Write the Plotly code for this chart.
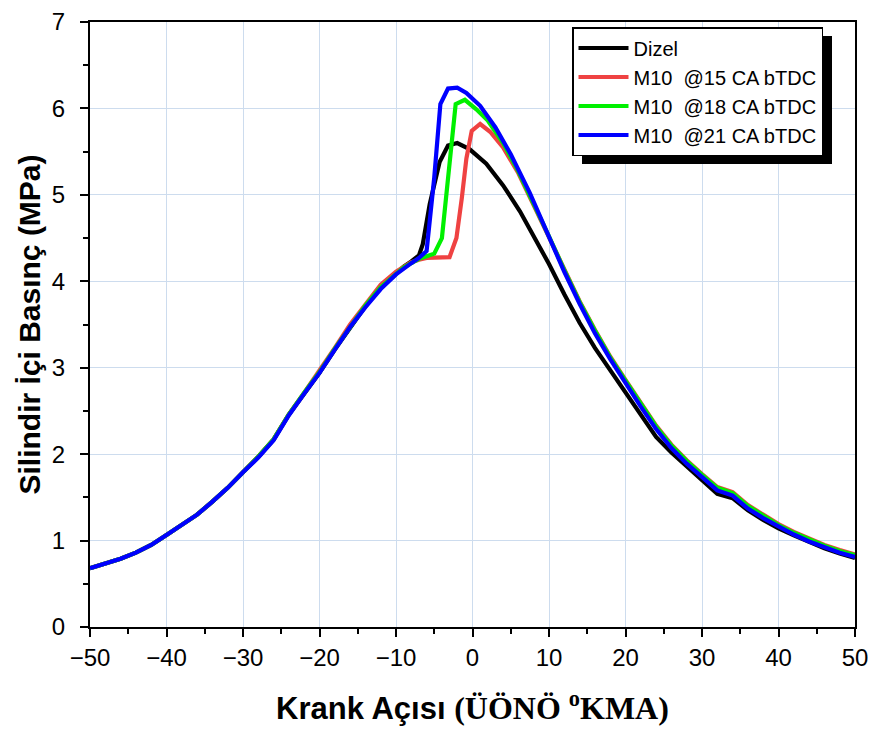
import plotly.graph_objects as go

# ---------------- data ----------------
dizel_angle = [-50, -48, -46, -44, -42, -40, -38, -36, -34, -32, -30, -28, -26, -24, -22, -20, -18, -16, -14, -12,
               -10, -9, -8, -7, -6.5, -5.6, -4.3, -3.2, -2, -0.4, 1.8, 4, 6.2, 8.4, 10, 12, 14, 16, 18, 20, 22, 24,
               26, 28, 30, 32, 34, 36, 38, 40, 42, 44, 46, 48, 50]
dizel_p = [0.68, 0.73, 0.79, 0.86, 0.95, 1.065, 1.18, 1.30, 1.45, 1.61, 1.79, 1.97, 2.17, 2.46, 2.70, 2.94, 3.21,
           3.47, 3.71, 3.93, 4.10, 4.17, 4.23, 4.30, 4.43, 4.89, 5.38, 5.57, 5.60, 5.53, 5.36, 5.11, 4.81, 4.47,
           4.20, 3.85, 3.52, 3.23, 2.97, 2.71, 2.44, 2.20, 2.02, 1.86, 1.70, 1.54, 1.49, 1.35, 1.24, 1.14, 1.06,
           0.98, 0.91, 0.85, 0.80]

m15_angle = [-50, -48, -46, -44, -42, -40, -38, -36, -34, -32, -30, -28, -26, -24, -22, -20, -18, -16, -14, -12,
             -10, -9, -8, -7, -6, -3, -2.1, -1.4, -0.8, -0.1, 1, 2.3, 4, 6, 8, 10, 12, 14, 16, 18, 20, 22, 24,
             26, 28, 30, 32, 34, 36, 38, 40, 42, 44, 46, 48, 50]
m15_p = [0.68, 0.73, 0.79, 0.86, 0.95, 1.065, 1.18, 1.30, 1.45, 1.61, 1.79, 1.97, 2.17, 2.46, 2.71, 2.96, 3.23,
         3.50, 3.74, 3.96, 4.11, 4.17, 4.22, 4.25, 4.27, 4.28, 4.50, 4.96, 5.42, 5.74, 5.82, 5.73, 5.55, 5.25,
         4.88, 4.51, 4.13, 3.77, 3.44, 3.13, 2.86, 2.59, 2.33, 2.11, 1.93, 1.77, 1.62, 1.56, 1.41, 1.30, 1.19,
         1.10, 1.02, 0.95, 0.89, 0.84]

m18_angle = [-50, -48, -46, -44, -42, -40, -38, -36, -34, -32, -30, -28, -26, -24, -22, -20, -18, -16, -14, -12,
             -10, -9, -8, -7, -6, -5, -4, -2.2, -1, 0.5, 2, 4, 6, 8, 10, 12, 14, 16, 18, 20, 22, 24,
             26, 28, 30, 32, 34, 36, 38, 40, 42, 44, 46, 48, 50]
m18_p = [0.68, 0.73, 0.79, 0.86, 0.95, 1.065, 1.18, 1.30, 1.45, 1.61, 1.79, 1.97, 2.17, 2.46, 2.71, 2.95, 3.22,
         3.48, 3.72, 3.93, 4.09, 4.16, 4.21, 4.26, 4.29, 4.32, 4.50, 6.05, 6.10, 5.99, 5.86, 5.60, 5.27, 4.90,
         4.52, 4.13, 3.76, 3.43, 3.12, 2.85, 2.58, 2.32, 2.10, 1.92, 1.76, 1.61, 1.55, 1.40, 1.29, 1.18, 1.09,
         1.01, 0.94, 0.88, 0.83]

m21_angle = [-50, -48, -46, -44, -42, -40, -38, -36, -34, -32, -30, -28, -26, -24, -22, -20, -18, -16, -14, -12,
             -10, -9, -8, -7, -6, -5, -4.2, -3.2, -2, -0.8, 1, 3, 5, 7.5, 10, 12, 14, 16, 18, 20, 22, 24,
             26, 28, 30, 32, 34, 36, 38, 40, 42, 44, 46, 48, 50]
m21_p = [0.68, 0.73, 0.79, 0.86, 0.95, 1.065, 1.18, 1.30, 1.45, 1.61, 1.79, 1.96, 2.16, 2.45, 2.70, 2.94, 3.21,
         3.47, 3.70, 3.91, 4.08, 4.15, 4.21, 4.27, 4.35, 5.20, 6.05, 6.23, 6.24, 6.18, 6.03, 5.78, 5.47, 5.02,
         4.50, 4.11, 3.74, 3.40, 3.10, 2.82, 2.55, 2.29, 2.07, 1.89, 1.73, 1.58, 1.52, 1.37, 1.26, 1.16, 1.07,
         0.99, 0.92, 0.86, 0.81]

series_names = ["Dizel", "M10\u00a0 @15 CA bTDC", "M10\u00a0 @18 CA bTDC", "M10\u00a0 @21 CA bTDC"]
series_colors = ["#000000", "#ef4242", "#00f000", "#0000ff"]

x_ticks = [-50, -40, -30, -20, -10, 0, 10, 20, 30, 40, 50]
y_ticks = [0, 1, 2, 3, 4, 5, 6, 7]

# ---------------- figure ----------------
OFF = 8                      # page body margin
W, H = 876 - OFF, 731 - OFF
L, R, T, B = 90 - OFF, 21, 22 - OFF, 104
SANS = "Liberation Sans, Arial, Helvetica, sans-serif"

fig = go.Figure()
for ang, p, name, col in zip([dizel_angle, m15_angle, m18_angle, m21_angle],
                             [dizel_p, m15_p, m18_p, m21_p], series_names, series_colors):
    fig.add_trace(go.Scatter(x=ang, y=p, mode="lines", name=name,
                             line=dict(color=col, width=4.2)))

pw = W - L - R
ph = H - T - B


def px2paper(xs, ys):
    """screen pixel -> paper coords"""
    xp, yp = xs - OFF, ys - OFF
    return (xp - L) / pw, (H - B - yp) / ph


# legend box (screen px): left 572, top 27; rendered size for font 20
LEG_L, LEG_T, LEG_W, LEG_H = 572, 27, 250, 128
sx0, sy0 = px2paper(LEG_L + 10, LEG_T + LEG_H + 9)
sx1, sy1 = px2paper(LEG_L + LEG_W + 10, LEG_T + 9)
fig.add_shape(type="rect", xref="paper", yref="paper", x0=sx0, y0=sy0, x1=sx1, y1=sy1,
              fillcolor="black", line=dict(width=0), layer="above")

lx, ly = px2paper(LEG_L, LEG_T)

grid_col = "#cddcee"
axis_common = dict(showline=True, linecolor="black", linewidth=2, mirror=True,
                   ticks="outside", ticklen=8, tickwidth=2, tickcolor="black",
                   showgrid=True, gridcolor=grid_col, gridwidth=1.2, zeroline=False,
                   automargin=False, ticklabeloverflow="allow",
                   tickfont=dict(family=SANS, size=24, color="black"))

fig.update_layout(
    width=W, height=H,
    margin=dict(l=L, r=R, t=T, b=B, autoexpand=False),
    paper_bgcolor="white", plot_bgcolor="white",
    showlegend=True,
    legend=dict(x=lx, y=ly, xanchor="left", yanchor="top",
                bgcolor="white", bordercolor="black", borderwidth=1.5,
                font=dict(family=SANS, size=20, color="black"),
                itemwidth=50, traceorder="normal"),
    xaxis=dict(range=[-50, 50], tickvals=x_ticks, ticktext=["\u2212" + str(-v) if v < 0 else str(v) for v in x_ticks],
               minor=dict(ticks="outside", ticklen=5, tickwidth=2, dtick=5, tick0=0, tickcolor="black", showgrid=False),
               title=dict(text='Krank Açısı <span style="font-family:Liberation Serif, Times New Roman, serif;font-size:32px">(ÜÖNÖ <sup>o</sup>KMA)</span>',
                          font=dict(family=SANS, size=31, color="black", weight="bold"), standoff=28),
               **axis_common),
    yaxis=dict(range=[0, 7], tickvals=y_ticks,
               minor=dict(ticks="outside", ticklen=5, tickwidth=2, dtick=0.5, tick0=0, tickcolor="black", showgrid=False),
               title=dict(text="Silindir İçi Basınç (MPa)",
                          font=dict(family=SANS, size=30, color="black", weight="bold"), standoff=2),
               ticklabelstandoff=10,
               **axis_common),
)

fig.write_html("out.html")
